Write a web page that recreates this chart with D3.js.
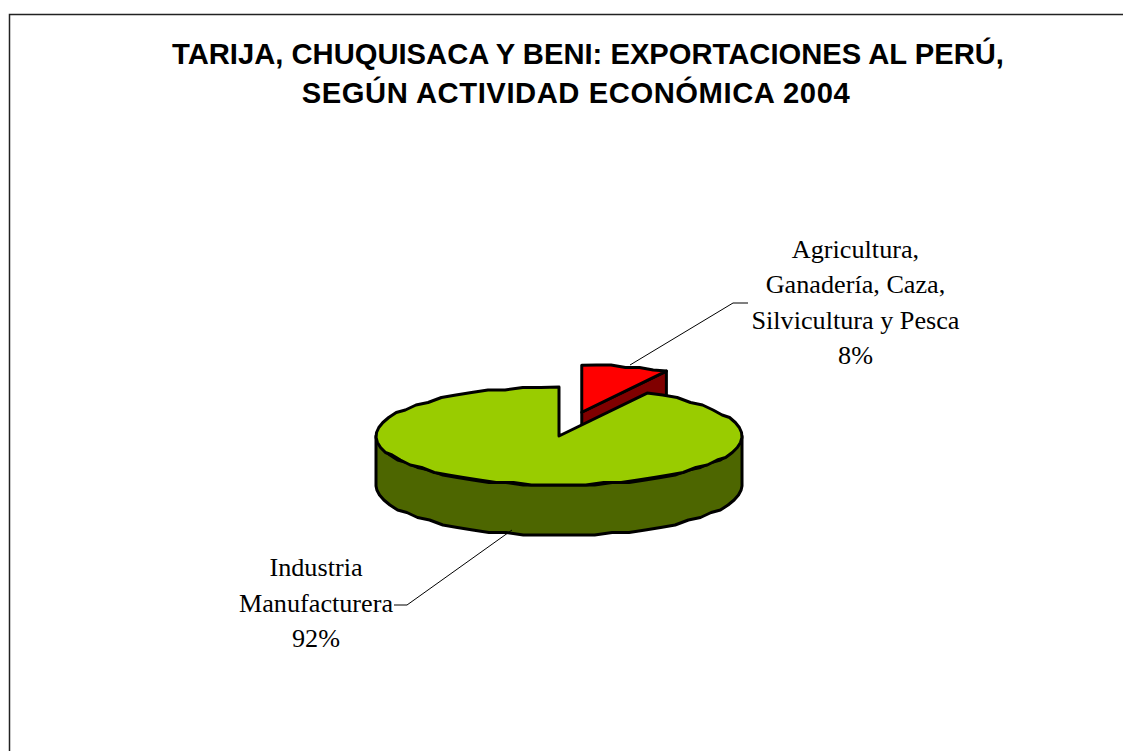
<!DOCTYPE html>
<html><head><meta charset="utf-8">
<style>html,body{margin:0;padding:0;background:#fff}svg{display:block}</style>
<script src="https://cdn.jsdelivr.net/npm/d3@7"></script></head>
<body><svg id="c" width="1123" height="751"></svg>
<script>
const categories = ["Agricultura, Ganadería, Caza, Silvicultura y Pesca", "Industria Manufacturera"];
const values = [8, 92];
const percentLabels = ["8%", "92%"];
const titleLines = ["TARIJA, CHUQUISACA Y BENI: EXPORTACIONES AL PERÚ,", "SEGÚN ACTIVIDAD ECONÓMICA 2004"];
const labelLines = [["Agricultura,", "Ganadería, Caza,", "Silvicultura y Pesca", "8%"], ["Industria", "Manufacturera", "92%"]];
const topColors = ["#ff0000", "#99cc00"];
const sideColors = ["#800000", "#4d6600"];

const svg = d3.select("#c");
const cx = 559, cy = 436, rx = 183, ry = 49, depth = 50, explode = [0.5, 0], sliceScale = [0.96, 1];
const grid = 2.5;

svg.append("path").attr("d", "M9.5,751V14.5H1123").attr("fill", "none").attr("stroke", "#222").attr("stroke-width", 1.5);

const title = svg.append("g").attr("font-family", "'Liberation Sans',Arial,sans-serif").attr("font-weight", "bold")
  .attr("font-size", 29.2).attr("text-anchor", "middle").attr("fill", "#000");
const titlePos = [[588, 64, 0], [576, 103, 0.57]];
titleLines.forEach((t, i) => title.append("text").attr("x", titlePos[i][0]).attr("y", titlePos[i][1])
  .attr("letter-spacing", titlePos[i][2]).text(t));

const arcs = d3.pie().value(d => d).sort(null)(values);
const q = v => Math.round(v / grid) * grid;
function offset(a, i) {
  const mid = (a.startAngle + a.endAngle) / 2;
  return [Math.sin(mid) * rx * explode[i], -Math.cos(mid) * ry * explode[i]];
}
function rim(a0, a1, ox, oy, dy, s = 1) {
  const n = Math.max(2, Math.ceil((a1 - a0) / 0.1));
  return d3.range(n + 1).map(k => {
    const t = a0 + (a1 - a0) * k / n;
    const x = ox + Math.sin(t) * rx * s, y = oy - Math.cos(t) * ry * s + dy;
    return (k === 0 || k === n) ? [x, y] : [x, q(y)];
  });
}
const line = d3.line();
const stroke = g => g.attr("stroke", "#000").attr("stroke-width", 3).attr("stroke-linejoin", "round");

// exploded small slice first
{
  const i = 0, a = arcs[i], [dx, dy] = offset(a, i), ax = cx + dx, ay = cy + dy;
  const rimPts = rim(a.startAngle, a.endAngle, ax, ay, 0, sliceScale[i]);
  const end = rimPts[rimPts.length - 1];
  svg.append("path").attr("d", line([[ax, ay], end, [end[0], end[1] + depth], [ax, ay + depth]]) + "Z")
    .attr("fill", sideColors[i]).call(stroke);
  svg.append("path").attr("d", line([[ax, ay], ...rimPts]) + "Z").attr("fill", topColors[i]).call(stroke);
}
// main slice
{
  const i = 1, a = arcs[i];
  const front = rim(Math.PI / 2, 3 * Math.PI / 2, cx, cy, 0);
  const frontBottom = rim(Math.PI / 2, 3 * Math.PI / 2, cx, cy, depth).reverse();
  svg.append("path").attr("d", line([...front, ...frontBottom]) + "Z").attr("fill", sideColors[i]).call(stroke);
  svg.append("path").attr("d", line([[cx, cy], ...rim(a.startAngle, a.endAngle, cx, cy, 0)]) + "Z")
    .attr("fill", topColors[i]).call(stroke);
}

// leaders
const leaderRed = [[630, 365], [733, 303], [748, 303]];
const leaderGreen = [[512, 530], [407, 605], [394, 605]];
[leaderRed, leaderGreen].forEach(p => svg.append("path").attr("d", line(p)).attr("fill", "none").attr("stroke", "#000").attr("stroke-width", 1));

// labels
const lab = svg.append("g").attr("font-family", "'Liberation Serif','Times New Roman',serif")
  .attr("font-size", 26.2).attr("text-anchor", "middle").attr("fill", "#000");
const labelPos = [[855.5, 258, 35.3], [316, 576, 35.5]];
labelLines.forEach((ls, i) => ls.forEach((t, k) =>
  lab.append("text").attr("x", labelPos[i][0]).attr("y", labelPos[i][1] + k * labelPos[i][2]).text(t)));
</script></body></html>
